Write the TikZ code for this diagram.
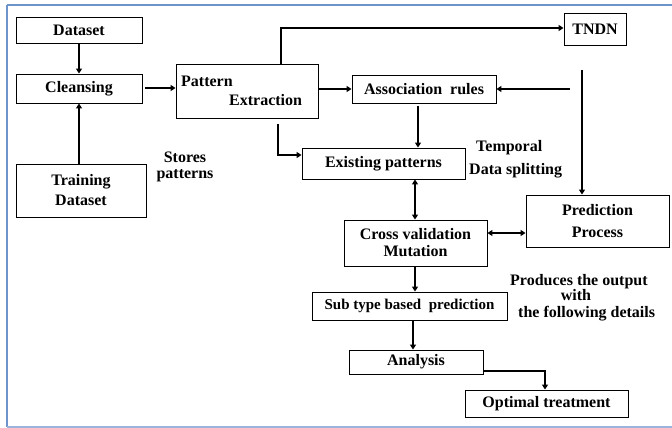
\documentclass[tikz,border=0pt]{standalone}
\usepackage{fontspec}
\setmainfont{Liberation Serif}
\usetikzlibrary{arrows.meta}
\definecolor{framecol}{HTML}{6E94CC}
\begin{document}
\begin{tikzpicture}[x=1pt,y=-1pt,
  box/.style={draw,line width=0.9pt,inner sep=0pt,font=\bfseries\fontsize{16}{18}\selectfont,align=center},
  lbl/.style={font=\bfseries\fontsize{16}{17}\selectfont,align=center,inner sep=0pt},
  arr/.style={line width=1.5pt,-{Triangle[length=5pt,width=6pt]}},
  darr/.style={line width=1.5pt,{Triangle[length=5pt,width=6pt]}-{Triangle[length=5pt,width=6pt]}}]
\useasboundingbox (0,0) rectangle (672,428);
% frame
\draw[framecol,line width=1.5pt] (7,5) -- (672,5);
\draw[framecol,line width=2pt] (7,5) -- (7,427);
\draw[framecol!70,line width=1.2pt] (7,427) -- (672,427);
% boxes
\node[box,minimum width=126pt,minimum height=26pt] (ds) at (79,30) {Dataset};
\node[box,minimum width=126pt,minimum height=29pt] (cl) at (79,88.5) {Cleansing};
\node[box,minimum width=130pt,minimum height=53pt] (tr) at (81,190.5) {Training\\[2pt]Dataset};
\node[box,minimum width=142pt,minimum height=54pt] (pe) at (247,91) {};
\node[lbl,anchor=base west] (pe1) at (181,87) {Pattern};
\node[lbl,anchor=base west] (pe2) at (229,105) {Extraction};
\node[box,minimum width=144pt,minimum height=28pt] (ar) at (424,89) {Association\ \ rules};
\node[box,minimum width=62pt,minimum height=32pt] (tn) at (595,29) {TNDN};
\node[box,minimum width=163pt,minimum height=31pt] (ep) at (383.5,163.5) {Existing patterns};
\node[box,minimum width=143pt,minimum height=52pt] (pp) at (597.5,221) {Prediction\\[4pt]Process};
\node[box,minimum width=143pt,minimum height=46pt] (cv) at (415.5,243) {Cross validation\\[-1pt]Mutation};
\node[box,minimum width=195pt,minimum height=28pt,font=\bfseries\fontsize{15}{18}\selectfont] (st) at (409.5,306) {Sub type based\ \ prediction};
\node[box,minimum width=134pt,minimum height=24pt] (an) at (416,362) {Analysis};
\node[box,minimum width=163pt,minimum height=27pt] (ot) at (546.5,403.5) {Optimal treatment};
% labels
\node[lbl,anchor=base] (sp1) at (185,162) {Stores};
\node[lbl,anchor=base] (sp2) at (185,178) {patterns};
\node[lbl,anchor=base west] (tp1) at (476,151) {Temporal};
\node[lbl,anchor=base west] (tp2) at (469,174) {Data splitting};
\node[lbl,anchor=base west] (po1) at (510,285) {Produces the output};
\node[lbl,anchor=base] (po2) at (576,300) {with};
\node[lbl,anchor=base west] (po3) at (518,317) {the following details};
% connectors
\draw[arr] (ds.south) -- (cl.north);
\draw[arr] (tr.north -| cl.south) -- (cl.south);
\draw[arr] (145,88) -- (pe.west |- 0,88);
\draw[arr] (pe.east |- ar.west) -- (ar.west);
\coordinate (petop) at (281,64);
\draw[arr] (petop) -- (281,28) -- (tn.west |- 0,28);
\coordinate (pebot) at (278,124);
\draw[arr] (pebot) -- (278,155) -- (ep.west |- 0,155);
\draw[arr] (418,106) -- (ep.north -| 418,0);
\coordinate (rs) at (570,89);
\draw[arr] (rs) -- (ar.east);
\coordinate (tnd) at (582,70);
\draw[arr] (tnd) -- (pp.north -| 582,0);
\draw[darr] (ep.south -| 415,0) -- (cv.north -| 415,0);
\draw[darr] (cv.east |- 0,233) -- (pp.west |- 0,233);
\draw[arr] (cv.south -| 415,0) -- (st.north -| 415,0);
\draw[arr] (st.south -| 413,0) -- (an.north -| 413,0);
\draw[arr] (an.east |- 0,371) -- (545,371) -- (ot.north -| 545,0);
\end{tikzpicture}
\end{document}
